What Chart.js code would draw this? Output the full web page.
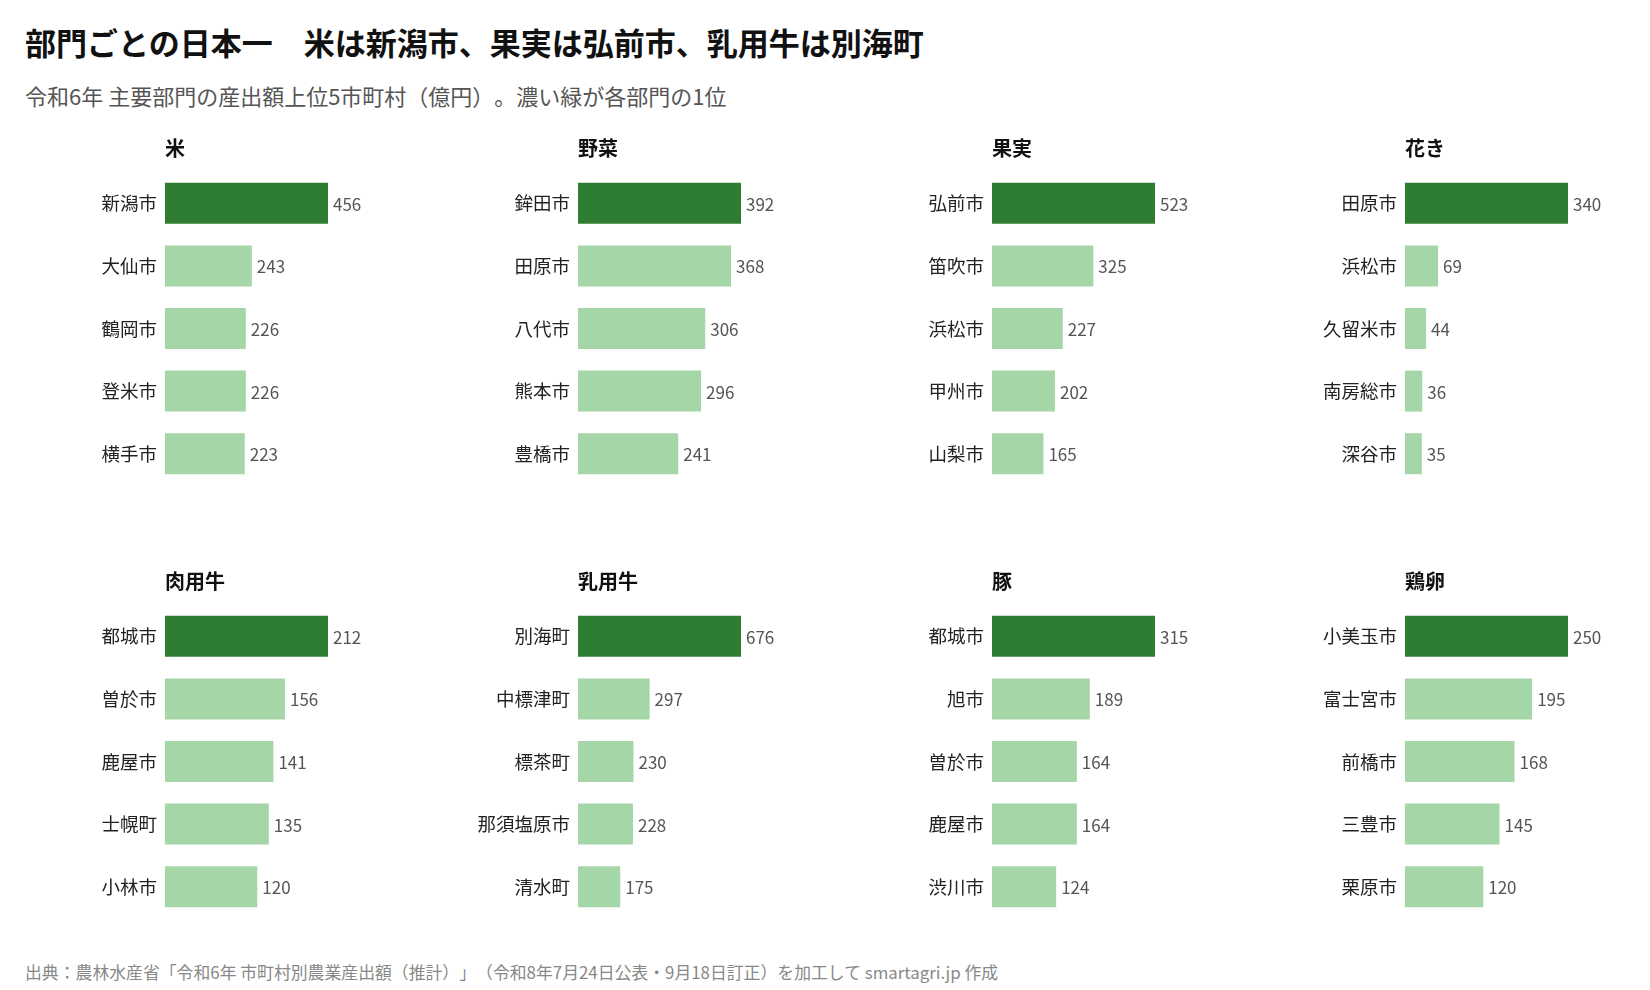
<!DOCTYPE html>
<html lang="ja">
<head>
<meta charset="utf-8">
<script src="https://cdn.jsdelivr.net/npm/chart.js@4.4.1/dist/chart.umd.min.js"></script>
<style>
  html, body { margin: 0; padding: 0; background: #fff; }
  body { width: 1650px; height: 990px; position: relative; overflow: hidden;
         font-family: "Noto Sans CJK JP", "Noto Sans", sans-serif; text-spacing-trim: space-all; }
  #title { position: absolute; left: 25px; top: 22px; font-size: 31px; font-weight: 700;
           color: #111; line-height: 40px; white-space: nowrap; }
  #subtitle { position: absolute; left: 25px; top: 80px; font-size: 22px; color: #555;
              line-height: 30px; white-space: nowrap; }
  #source { position: absolute; left: 25px; top: 960px; font-size: 16.85px; color: #888;
            line-height: 24px; white-space: nowrap; }
  .panel { position: absolute; }
</style>
</head>
<body>
<div id="title">部門ごとの日本一　米は新潟市、果実は弘前市、乳用牛は別海町</div>
<div id="subtitle">令和6年 主要部門の産出額上位5市町村（億円）。濃い緑が各部門の1位</div>
<div id="source">出典：農林水産省「令和6年 市町村別農業産出額（推計）」（令和8年7月24日公表・9月18日訂正）を加工して smartagri.jp 作成</div>

<script>
// ---- Data ----
const sectors = ['米', '野菜', '果実', '花き', '肉用牛', '乳用牛', '豚', '鶏卵'];

const riceCities = ['新潟市', '大仙市', '鶴岡市', '登米市', '横手市'];
const riceValues = [456, 243, 226, 226, 223];

const vegCities = ['鉾田市', '田原市', '八代市', '熊本市', '豊橋市'];
const vegValues = [392, 368, 306, 296, 241];

const fruitCities = ['弘前市', '笛吹市', '浜松市', '甲州市', '山梨市'];
const fruitValues = [523, 325, 227, 202, 165];

const flowerCities = ['田原市', '浜松市', '久留米市', '南房総市', '深谷市'];
const flowerValues = [340, 69, 44, 36, 35];

const beefCities = ['都城市', '曽於市', '鹿屋市', '士幌町', '小林市'];
const beefValues = [212, 156, 141, 135, 120];

const dairyCities = ['別海町', '中標津町', '標茶町', '那須塩原市', '清水町'];
const dairyValues = [676, 297, 230, 228, 175];

const porkCities = ['都城市', '旭市', '曽於市', '鹿屋市', '渋川市'];
const porkValues = [315, 189, 164, 164, 124];

const eggCities = ['小美玉市', '富士宮市', '前橋市', '三豊市', '栗原市'];
const eggValues = [250, 195, 168, 145, 120];

const panelCities = [riceCities, vegCities, fruitCities, flowerCities, beefCities, dairyCities, porkCities, eggCities];
const panelValues = [riceValues, vegValues, fruitValues, flowerValues, beefValues, dairyValues, porkValues, eggValues];

// ---- Layout / style ----
const FONT = '"Noto Sans CJK JP", "Noto Sans", sans-serif';
const DARK = '#2e7d32';
const LIGHT = '#a5d6a7';
const AXIS_W = 140;      // width reserved for city labels
const AREA_W = 260;      // plot area width
const TOP_BAR_W = 163;   // pixel length of the leading bar
const PAD_TOP = 52;
const PAD_BOTTOM = 30;
const AREA_H = 313;
const colBarStart = [165, 578, 992, 1405];
const rowTop = [120, 553];

const panelTitlePlugin = {
  id: 'panelTitle',
  afterDraw(chart, args, opts) {
    const ctx = chart.ctx;
    ctx.save();
    ctx.font = '700 20px ' + FONT;
    ctx.fillStyle = '#111';
    ctx.textAlign = 'left';
    ctx.textBaseline = 'middle';
    ctx.fillText(opts.text, chart.chartArea.left, 28);
    ctx.restore();
  }
};

const valueLabelPlugin = {
  id: 'valueLabels',
  afterDatasetsDraw(chart) {
    const ctx = chart.ctx;
    const meta = chart.getDatasetMeta(0);
    const data = chart.data.datasets[0].data;
    ctx.save();
    ctx.font = '17px ' + FONT;
    ctx.fillStyle = '#555';
    ctx.textAlign = 'left';
    ctx.textBaseline = 'middle';
    meta.data.forEach((bar, i) => {
      ctx.fillText(String(data[i]), bar.x + 5, bar.y + 1);
    });
    ctx.restore();
  }
};

sectors.forEach((name, p) => {
  const col = p % 4, row = Math.floor(p / 4);
  const canvas = document.createElement('canvas');
  const w = AXIS_W + AREA_W, h = PAD_TOP + AREA_H + PAD_BOTTOM;
  canvas.width = w; canvas.height = h;
  canvas.className = 'panel';
  canvas.style.left = (colBarStart[col] - AXIS_W) + 'px';
  canvas.style.top = rowTop[row] + 'px';
  canvas.style.width = w + 'px';
  canvas.style.height = h + 'px';
  document.body.appendChild(canvas);

  const vals = panelValues[p];
  const maxVal = vals[0] * AREA_W / TOP_BAR_W;

  new Chart(canvas, {
    type: 'bar',
    data: {
      labels: panelCities[p],
      datasets: [{
        data: vals,
        backgroundColor: (c) => c.dataIndex === 0 ? DARK : LIGHT,
        borderWidth: 0,
        categoryPercentage: 1,
        barPercentage: 0.655
      }]
    },
    options: {
      indexAxis: 'y',
      responsive: false,
      maintainAspectRatio: false,
      animation: false,
      devicePixelRatio: 1,
      layout: { padding: { top: PAD_TOP, bottom: PAD_BOTTOM, left: 0, right: 0 } },
      scales: {
        x: { display: false, min: 0, max: maxVal },
        y: {
          grid: { display: false, drawTicks: false },
          border: { display: false },
          ticks: { color: '#222', font: { family: FONT, size: 18.5 }, padding: 8 },
          afterFit: (s) => { s.width = AXIS_W; }
        }
      },
      plugins: {
        legend: { display: false },
        tooltip: { enabled: false },
        title: { display: false },
        panelTitle: { text: name }
      }
    },
    plugins: [panelTitlePlugin, valueLabelPlugin]
  });
});
</script>
</body>
</html>
